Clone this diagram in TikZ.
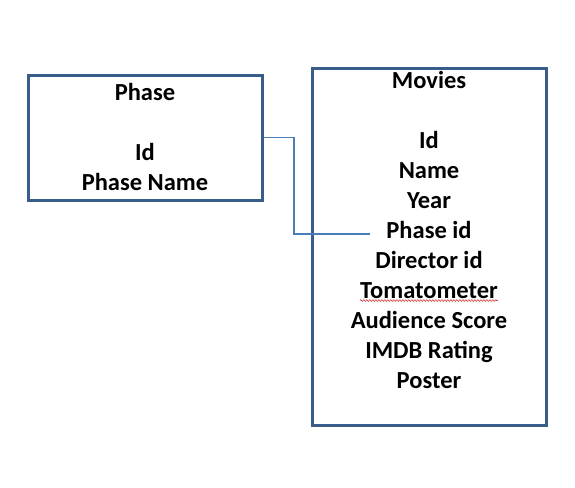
\documentclass[tikz,border=0pt]{standalone}
\usepackage{fontspec}
\setmainfont{Carlito}
\usetikzlibrary{decorations.pathmorphing}
\definecolor{boxline}{HTML}{385D8A}
\definecolor{conline}{HTML}{4A7EBB}
\tikzset{
  entitybox/.style={draw=boxline, line width=3pt, fill=none},
  field/.style={anchor=base, inner sep=0pt, font=\fontsize{24.5}{30}\selectfont\bfseries, text=black},
  link/.style={draw=conline, line width=1.1pt},
}
\begin{document}
\begin{tikzpicture}[x=1pt,y=-1pt]
\useasboundingbox (0,0) rectangle (575,487);
% boxes
\node[entitybox, minimum width=234pt, minimum height=125pt, inner sep=0pt] (phase) at (145,137.5) {};
\node[entitybox, minimum width=234pt, minimum height=357pt, inner sep=0pt] (movies) at (429,246.5) {};
% phase texts
\node[field] (ph1) at (145,100.5) {Phase};
\node[field] (ph2) at (145,160.5) {Id};
\node[field] (ph3) at (145,190.5) {Phase Name};
% movies texts
\node[field] (m0) at (429,88) {Movies};
\node[field] (m1) at (429,148) {Id};
\node[field] (m2) at (429,178) {Name};
\node[field] (m3) at (429,208) {Year};
\node[field] (m4) at (429,238) {Phase id};
\node[field] (m5) at (429,268) {Director id};
\node[field] (m6) at (429,298) {Tomatometer};
\node[field] (m7) at (429,328) {Audience Score};
\node[field] (m8) at (429,358) {IMDB Rating};
\node[field] (m9) at (429,388) {Poster};
% spell-check squiggle
\draw[red!80!black, line width=0.5pt, decorate, decoration={snake, amplitude=0.8pt, segment length=3pt}]
  ([yshift=-2.5pt]m6.base west) -- ([yshift=-2.5pt]m6.base east);
% connector
\coordinate (cend) at (370,234);
\draw[link] (phase.east) -| (294,234) -- (cend);
\end{tikzpicture}
\end{document}
